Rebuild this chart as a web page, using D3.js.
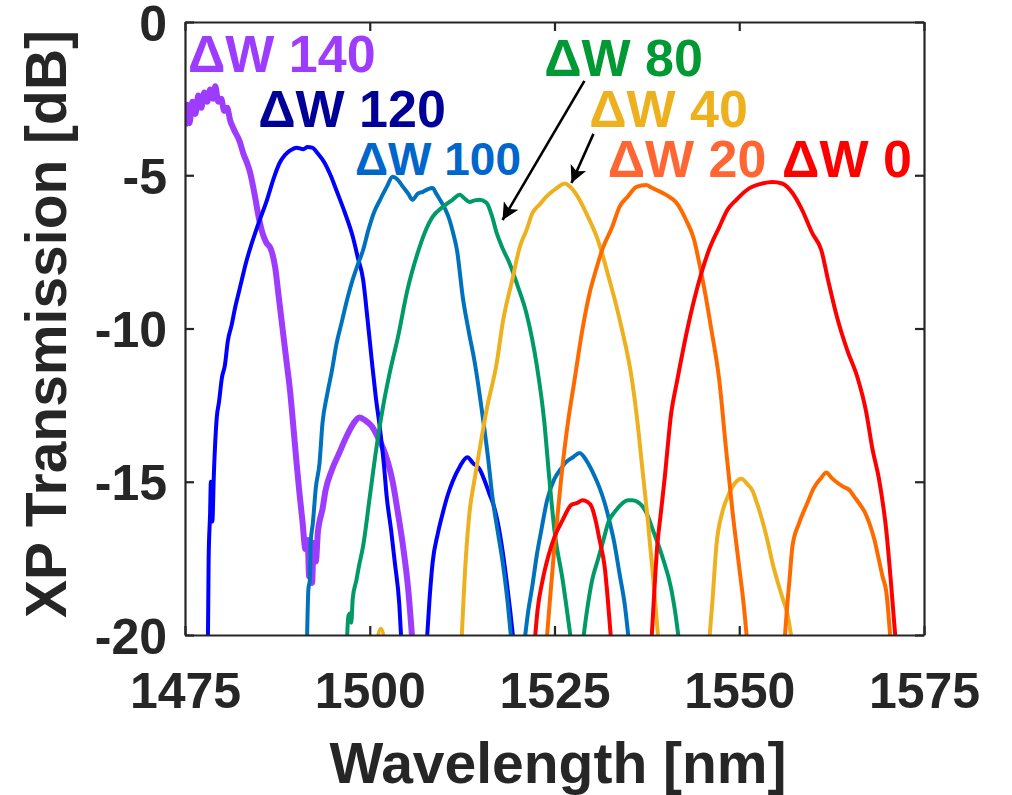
<!DOCTYPE html>
<html>
<head>
<meta charset="utf-8">
<script src="https://cdn.jsdelivr.net/npm/d3@7"></script>
<style>
  html, body { margin: 0; padding: 0; background: #fff; }
  svg { display: block; }
  text { font-family: "Liberation Sans", Arial, sans-serif; font-weight: bold; }
</style>
</head>
<body>
<svg id="chart" width="1012" height="795"></svg>
<script>
// ---------- data (wavelength nm, transmission dB), each series = list of lobes ----------
const xTicks = [1475, 1500, 1525, 1550, 1575];
const yTicks = [0, -5, -10, -15, -20];

const dw140 = [[
  [1475.0,-3.4],[1475.3,-2.7],[1475.6,-3.3],[1476.0,-2.6],[1476.4,-3.0],[1476.8,-2.4],[1477.2,-2.8],
  [1477.6,-2.3],[1478.0,-2.6],[1478.4,-2.2],[1478.8,-2.5],[1479.1,-2.1],[1479.5,-2.6],[1479.9,-2.5],
  [1480.3,-2.9],[1480.7,-2.8],[1481.1,-3.2],[1481.6,-3.5],[1482.4,-3.9],[1482.9,-4.3],[1483.4,-4.6],
  [1483.8,-4.9],[1484.4,-5.6],[1485.0,-6.4],[1485.5,-6.9],[1486.0,-7.2],[1486.6,-7.4],[1487.2,-8.0],
  [1487.7,-9.0],[1488.2,-10.0],[1488.7,-11.0],[1489.2,-12.0],[1489.7,-13.3],[1490.1,-14.4],
  [1490.5,-15.4],[1490.9,-16.3],[1491.3,-17.2],[1491.6,-16.9],[1491.8,-18.1],[1492.0,-17.4],
  [1492.2,-18.3],[1492.4,-17.0],[1492.7,-17.6],[1493.0,-16.6],[1493.2,-16.3],[1493.6,-15.9],
  [1494.0,-15.3],[1494.9,-14.6],[1495.8,-14.1],[1496.9,-13.5],[1497.8,-13.1],[1498.6,-12.9],
  [1499.4,-13.0],[1500.3,-13.2],[1501.0,-13.5],[1501.8,-13.9],[1502.5,-14.4],[1503.1,-15.0],
  [1503.8,-16.0],[1504.5,-17.1],[1505.2,-18.5],[1505.8,-20.3]
]];

const dw120 = [[
  [1478.1,-20.3],[1478.2,-17.5],[1478.4,-16.0],[1478.5,-15.0],[1478.7,-16.3],[1478.9,-14.8],
  [1479.3,-12.9],[1479.6,-12.4],[1480.0,-11.6],[1480.4,-11.2],[1480.8,-10.4],[1481.3,-9.9],
  [1481.8,-9.3],[1482.2,-8.9],[1482.7,-8.4],[1483.2,-7.9],[1483.8,-7.4],[1484.9,-6.6],[1486.1,-5.8],
  [1487.0,-5.1],[1487.8,-4.6],[1488.5,-4.35],[1489.2,-4.2],[1490.1,-4.1],[1491.0,-4.15],[1491.6,-4.08],
  [1492.2,-4.1],[1493.0,-4.3],[1493.9,-4.6],[1494.7,-5.0],[1495.5,-5.5],[1496.6,-6.2],[1497.7,-7.0],
  [1498.4,-7.7],[1499.1,-8.4],[1499.7,-9.7],[1500.3,-11.1],[1500.8,-12.2],[1501.4,-13.3],
  [1501.9,-14.4],[1502.3,-15.5],[1502.9,-16.6],[1503.4,-17.65],[1504.0,-19.0],[1504.3,-20.3]
],[
  [1507.7,-20.3],[1508.1,-18.8],[1508.5,-17.65],[1509.2,-16.7],[1509.9,-16.0],[1510.6,-15.4],
  [1511.2,-15.0],[1512.2,-14.5],[1513.2,-14.2],[1514.0,-14.4],[1514.9,-14.6],[1515.6,-15.0],
  [1516.2,-15.4],[1516.8,-15.8],[1517.3,-16.3],[1518.0,-17.3],[1518.5,-18.2],[1519.0,-19.2],[1519.5,-20.3]
]];

const dw100 = [[
  [1491.5,-20.3],[1491.7,-18.5],[1491.9,-18.2],[1492.0,-17.0],[1492.3,-16.35],[1492.7,-15.2],
  [1493.2,-14.4],[1493.6,-13.1],[1494.2,-12.2],[1494.9,-11.35],[1495.5,-10.5],[1496.2,-9.8],
  [1497.0,-9.0],[1497.7,-8.4],[1498.4,-7.9],[1499.1,-7.44],[1499.8,-6.8],[1500.6,-6.2],[1501.4,-5.8],
  [1502.3,-5.38],[1503.1,-5.05],[1503.8,-5.15],[1504.5,-5.38],[1505.2,-5.6],[1505.8,-5.8],
  [1506.5,-5.6],[1507.2,-5.54],[1507.9,-5.45],[1508.5,-5.42],[1509.0,-5.6],[1509.5,-5.8],
  [1510.2,-6.1],[1510.8,-6.46],[1511.3,-6.9],[1511.8,-7.44],[1512.6,-9.0],[1513.4,-10.1],
  [1514.2,-11.1],[1515.3,-12.9],[1516.0,-14.2],[1516.6,-15.5],[1517.3,-16.6],[1518.0,-17.65],
  [1518.6,-18.8],[1519.2,-20.3]
],[
  [1520.9,-20.3],[1521.4,-19.3],[1522.0,-18.4],[1522.6,-17.4],[1523.2,-16.6],[1524.0,-15.6],
  [1525.0,-14.9],[1525.8,-14.6],[1526.6,-14.35],[1527.5,-14.2],[1528.4,-14.06],[1529.3,-14.3],
  [1530.2,-14.7],[1531.1,-15.2],[1531.8,-15.7],[1532.4,-16.25],[1533.1,-17.0],[1533.8,-18.0],
  [1534.5,-19.0],[1535.1,-20.3]
]];

const dw80 = [[
  [1496.9,-20.3],[1497.1,-19.4],[1497.3,-19.3],[1497.5,-19.6],[1497.7,-18.8],[1498.2,-18.2],
  [1498.5,-17.8],[1499.1,-17.1],[1500.0,-15.5],[1500.9,-13.9],[1501.8,-12.55],[1502.7,-11.45],
  [1503.8,-10.3],[1505.1,-8.74],[1506.4,-7.6],[1507.4,-6.9],[1508.5,-6.36],[1509.9,-6.03],
  [1511.2,-5.8],[1512.2,-5.64],[1512.8,-5.75],[1513.5,-5.87],[1514.2,-5.82],[1514.9,-5.8],
  [1515.8,-5.9],[1516.5,-6.3],[1517.2,-6.9],[1518.0,-7.4],[1518.9,-7.86],[1520.0,-8.6],
  [1521.2,-9.5],[1522.6,-11.2],[1523.6,-13.0],[1524.3,-14.9],[1525.0,-16.6],[1526.1,-18.2],[1527.3,-20.3]
],[
  [1528.8,-20.3],[1529.4,-19.2],[1530.1,-18.2],[1530.8,-17.6],[1531.4,-17.1],[1532.4,-16.25],
  [1533.1,-16.0],[1534.2,-15.7],[1534.9,-15.6],[1535.5,-15.6],[1536.2,-15.65],[1536.9,-15.8],
  [1537.6,-16.1],[1538.2,-16.5],[1539.6,-17.45],[1540.8,-18.5],[1541.3,-19.2],[1541.9,-20.3]
]];

const dw40 = [[
  [1500.8,-20.5],[1501.5,-19.8],[1502.2,-20.5]
],[
  [1512.4,-20.3],[1513.0,-17.5],[1513.5,-16.0],[1514.2,-14.9],[1514.9,-13.9],[1515.8,-12.66],
  [1517.2,-11.1],[1518.0,-9.8],[1519.3,-8.4],[1520.3,-7.34],[1521.2,-6.8],[1522.0,-6.24],
  [1523.0,-5.95],[1523.9,-5.7],[1525.3,-5.42],[1526.4,-5.27],[1527.0,-5.35],[1527.7,-5.54],
  [1528.5,-5.85],[1529.3,-6.24],[1530.0,-6.6],[1530.7,-7.0],[1531.5,-7.6],[1532.3,-8.3],
  [1533.2,-9.1],[1534.1,-10.0],[1535.5,-11.7],[1536.2,-13.0],[1536.9,-14.6],[1537.6,-16.2],
  [1538.3,-18.0],[1539.1,-20.3]
],[
  [1545.9,-20.3],[1546.4,-18.8],[1546.9,-17.1],[1547.7,-16.0],[1548.6,-15.4],[1549.4,-15.05],
  [1550.3,-14.9],[1551.0,-15.05],[1551.8,-15.3],[1552.4,-15.7],[1553.1,-16.25],[1553.8,-16.9],
  [1554.5,-17.65],[1555.8,-18.75],[1556.5,-19.3],[1557.2,-20.3]
]];

const dw20 = [[
  [1523.9,-20.3],[1524.4,-18.8],[1525.0,-17.1],[1525.9,-14.9],[1526.8,-13.1],[1527.7,-11.7],
  [1528.8,-10.0],[1529.7,-8.9],[1530.6,-8.1],[1531.5,-7.4],[1532.8,-6.69],[1533.8,-6.03],
  [1534.9,-5.7],[1536.1,-5.38],[1537.4,-5.32],[1538.1,-5.4],[1538.8,-5.48],[1540.1,-5.64],
  [1541.5,-5.9],[1542.8,-6.46],[1543.9,-7.11],[1544.7,-8.0],[1545.5,-9.0],[1546.2,-10.0],
  [1547.3,-11.7],[1548.2,-13.9],[1549.1,-16.0],[1550.0,-17.8],[1550.6,-19.0],[1551.1,-20.3]
],[
  [1556.1,-20.3],[1556.5,-19.0],[1556.8,-18.2],[1557.2,-17.1],[1558.1,-16.35],[1559.2,-15.7],
  [1560.1,-15.2],[1561.0,-14.9],[1561.8,-14.7],[1562.4,-14.85],[1563.1,-15.0],[1564.0,-15.15],
  [1564.9,-15.27],[1565.6,-15.5],[1566.2,-15.7],[1567.0,-16.0],[1567.6,-16.35],[1568.3,-16.9],
  [1568.9,-17.55],[1569.4,-18.1],[1569.9,-18.6],[1570.5,-20.3]
]];

const dw0 = [[
  [1522.3,-20.3],[1522.7,-19.2],[1523.4,-18.2],[1524.2,-17.4],[1525.0,-16.8],[1526.1,-16.25],
  [1527.3,-15.75],[1528.0,-15.7],[1528.8,-15.6],[1529.4,-15.65],[1530.0,-15.8],[1530.6,-16.3],
  [1531.1,-16.9],[1531.8,-17.8],[1532.2,-18.8],[1532.7,-20.3]
],[
  [1538.1,-20.3],[1538.5,-18.6],[1538.9,-17.1],[1539.4,-16.0],[1539.9,-14.9],[1540.8,-12.75],
  [1541.6,-11.7],[1543.0,-10.0],[1544.4,-8.6],[1545.9,-7.44],[1547.3,-6.69],[1548.4,-6.13],
  [1549.6,-5.8],[1551.4,-5.42],[1553.1,-5.27],[1554.5,-5.22],[1555.8,-5.27],[1557.2,-5.58],
  [1558.5,-6.13],[1559.9,-6.9],[1561.1,-7.44],[1562.0,-8.4],[1563.2,-9.6],[1564.6,-10.7],
  [1566.0,-11.6],[1567.2,-12.75],[1568.0,-13.9],[1568.9,-14.9],[1569.9,-16.6],[1570.5,-18.2],[1571.2,-20.3]
]];

const seriesNames = ["ΔW 140","ΔW 120","ΔW 100","ΔW 80","ΔW 40","ΔW 20","ΔW 0"];
const seriesData  = [dw140, dw120, dw100, dw80, dw40, dw20, dw0];
const lineColors  = ["#9D3CFF","#0000FF","#0072BD","#009A66","#EDB120","#FF6A00","#FF0000"];
const labelColors = ["#9D3CFF","#000099","#0066CC","#009933","#EDB120","#FF6633","#FF0000"];
const labelSizes  = [52, 52, 46, 52, 52, 52, 52];
// label anchor positions in data units (wavelength, dB) = start of text baseline
const labelPos = [[1475.4,-1.63],[1484.9,-3.43],[1498.0,-5.0],[1523.6,-1.76],[1529.7,-3.43],[1532.2,-5.06],[1555.8,-5.06]];
// arrows in data units: [from λ, from dB, to λ, to dB]
const arrows = [[1529.05,-1.92,1517.97,-6.46],[1530.27,-3.65,1527.3,-5.25]];

// ---------- layout ----------
const svg = d3.select("#chart");
const L = 185, R = 924, T = 22, B = 635;
const axisColor = "#262626";

const x = d3.scaleLinear().domain([1475, 1575]).range([L, R]);
const y = d3.scaleLinear().domain([-20, 0]).range([B, T]);

svg.append("defs").append("clipPath").attr("id", "clip")
  .append("rect").attr("x", L).attr("y", T).attr("width", R - L).attr("height", B - T);

// curves
const line = d3.line().x(d => x(d[0])).y(d => y(d[1])).curve(d3.curveMonotoneX);
const gLines = svg.append("g").attr("clip-path", "url(#clip)");
seriesData.forEach((lobes, i) => {
  lobes.forEach(lobe => {
    gLines.append("path")
      .attr("d", line(lobe))
      .attr("fill", "none")
      .attr("stroke", lineColors[i])
      .attr("stroke-width", i === 0 ? 6 : 4)
      .attr("stroke-linejoin", "round");
  });
});

// axes box + ticks (inside)
const tickLen = 9;
const fmt = d => String(d);
const axB = d3.axisBottom(x).tickValues(xTicks).tickSizeInner(-tickLen).tickSizeOuter(0).tickFormat(fmt);
const axT = d3.axisTop(x).tickValues(xTicks).tickSizeInner(-tickLen).tickSizeOuter(0).tickFormat("");
const axL = d3.axisLeft(y).tickValues(yTicks).tickSizeInner(-tickLen).tickSizeOuter(0).tickFormat(fmt);
const axR = d3.axisRight(y).tickValues(yTicks).tickSizeInner(-tickLen).tickSizeOuter(0).tickFormat("");

function styleAxis(g) {
  g.select(".domain").attr("stroke", axisColor).attr("stroke-width", 2.2);
  g.selectAll(".tick line").attr("stroke", axisColor).attr("stroke-width", 2.2);
  g.selectAll(".tick text").attr("fill", axisColor)
    .style("font-family", '"Liberation Sans", Arial, sans-serif')
    .style("font-weight", "bold").style("font-size", "50px");
}
const gB = svg.append("g").attr("transform", `translate(0,${B})`).call(axB).call(styleAxis);
gB.selectAll(".tick text").attr("y", 0).attr("dy", null).attr("transform", "translate(0,73)");
svg.append("g").attr("transform", `translate(0,${T})`).call(axT).call(styleAxis);
const gL = svg.append("g").attr("transform", `translate(${L},0)`).call(axL).call(styleAxis);
gL.selectAll(".tick text").attr("x", -18).attr("dy", "0.36em");
svg.append("g").attr("transform", `translate(${R},0)`).call(axR).call(styleAxis);

// axis titles
svg.append("text").attr("x", 558).attr("y", 783).attr("text-anchor", "middle")
  .attr("fill", axisColor).style("font-size", "57px").text("Wavelength [nm]");
svg.append("text").attr("transform", "translate(66,324) rotate(-90)").attr("text-anchor", "middle")
  .attr("fill", axisColor).style("font-size", "57px").text("XP Transmission [dB]");

// labels
seriesNames.forEach((name, i) => {
  svg.append("text").attr("x", x(labelPos[i][0])).attr("y", y(labelPos[i][1]))
    .attr("fill", labelColors[i]).style("font-size", labelSizes[i] + "px").text(name);
});

// arrows
svg.append("defs").append("marker").attr("id", "ah")
  .attr("viewBox", "0 0 10 10").attr("refX", 10).attr("refY", 5)
  .attr("markerWidth", 8).attr("markerHeight", 6.5).attr("markerUnits", "strokeWidth")
  .attr("orient", "auto")
  .append("path").attr("d", "M0,0 L10,5 L0,10 L2.5,5 Z").attr("fill", "#000");
arrows.forEach(a => {
  svg.append("line").attr("x1", x(a[0])).attr("y1", y(a[1])).attr("x2", x(a[2])).attr("y2", y(a[3]))
    .attr("stroke", "#000").attr("stroke-width", 2.6).attr("marker-end", "url(#ah)");
});
</script>
</body>
</html>
